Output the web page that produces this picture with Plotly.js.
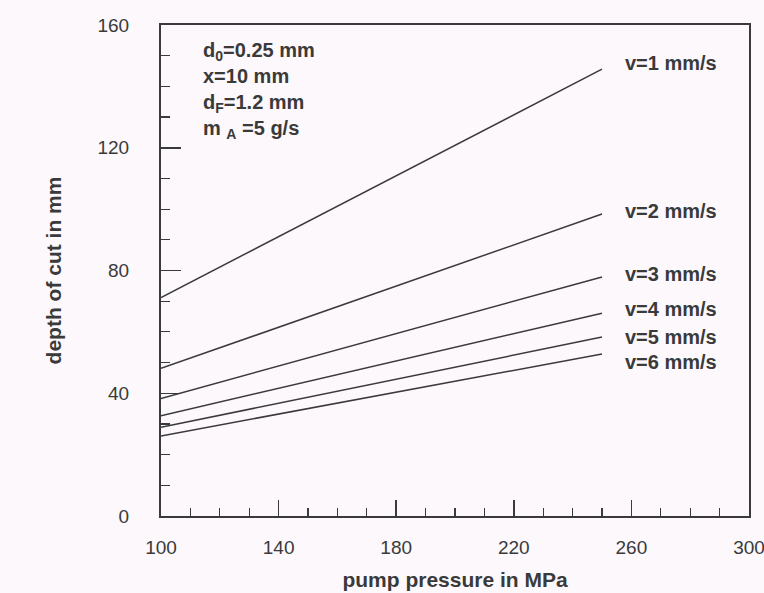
<!DOCTYPE html>
<html>
<head>
<meta charset="utf-8">
<script src="https://cdn.plot.ly/plotly-3.0.1.min.js"></script>
<style>html,body{margin:0;padding:0;background:#fcf8fc;}#chart{width:764px;height:593px;}</style>
</head>
<body>
<div id="chart"></div>
<script>
// pump pressure in MPa (line endpoints)
const pressure = [100, 250];
// depth of cut in mm for each traverse speed
const v1 = [71.2, 145.6];
const v2 = [48.1, 98.4];
const v3 = [38.3, 77.9];
const v4 = [32.7, 66.1];
const v5 = [28.9, 58.3];
const v6 = [26.1, 52.8];
const seriesNames = ["v=1 mm/s", "v=2 mm/s", "v=3 mm/s", "v=4 mm/s", "v=5 mm/s", "v=6 mm/s"];
const paramLines = ["d<sub>0</sub>=0.25 mm", "x=10 mm", "d<sub>F</sub>=1.2 mm", "m <sub>A</sub> =5 g/s"];
const xTicks = [100, 140, 180, 220, 260, 300];
const yTicks = [0, 40, 80, 120, 160];

const allSeries = [v1, v2, v3, v4, v5, v6];
const lineColor = "#3a3a3a";
const textColor = "#3a3a3a";
const font = "Liberation Sans, Arial, Helvetica, sans-serif";

const traces = allSeries.map((s, i) => ({
  x: pressure, y: s, mode: "lines", type: "scatter", name: seriesNames[i],
  line: {color: lineColor, width: 1.5}, hoverinfo: "x+y+name"
}));

const labelShift = [2, 1, 1, 1.5, 0, -2.5];
const annotations = allSeries.map((s, i) => ({
  x: 257, y: s[s.length - 1] + labelShift[i], xref: "x", yref: "y",
  text: seriesNames[i], showarrow: false, xanchor: "left", yanchor: "middle",
  font: {family: font, size: 20, color: textColor, weight: "bold"}
}));
annotations.push({
  x: 0.068, y: 0.975, xref: "paper", yref: "paper", xanchor: "left", yanchor: "top",
  align: "left", showarrow: false, text: paramLines.join("<br>"),
  font: {family: font, size: 20, color: textColor, weight: "bold"}
});

const layout = {
  width: 764, height: 593,
  margin: {l: 161, r: 15, t: 25, b: 77},
  paper_bgcolor: "#fcf8fc", plot_bgcolor: "#fcf8fc",
  showlegend: false,
  font: {family: font, color: textColor},
  xaxis: {
    range: [100, 300], tickvals: xTicks, ticktext: xTicks.map(String),
    ticklabeloverflow: "allow",
    ticks: "inside", ticklen: 16, tickwidth: 1.5, tickcolor: lineColor,
    minor: {dtick: 10, ticks: "inside", ticklen: 8, tickwidth: 1.2, tickcolor: lineColor},
    showline: true, linecolor: lineColor, linewidth: 2, mirror: true,
    showgrid: false, zeroline: false,
    tickfont: {family: font, size: 19, color: textColor},
    ticklabelstandoff: 13,
    title: {text: "pump pressure in MPa", font: {family: font, size: 21, color: textColor, weight: "bold"}, standoff: 16}
  },
  yaxis: {
    range: [0, 160], tickvals: yTicks, ticktext: yTicks.map(String),
    ticklabeloverflow: "allow",
    ticks: "inside", ticklen: 20, tickwidth: 1.5, tickcolor: lineColor,
    minor: {dtick: 10, ticks: "inside", ticklen: 9, tickwidth: 1.2, tickcolor: lineColor},
    showline: true, linecolor: lineColor, linewidth: 2, mirror: true,
    showgrid: false, zeroline: false,
    tickfont: {family: font, size: 19, color: textColor},
    ticklabelstandoff: 26,
    title: {text: "depth of cut in mm", font: {family: font, size: 21, color: textColor, weight: "bold"}, standoff: 30}
  },
  annotations: annotations
};

Plotly.newPlot("chart", traces, layout, {displayModeBar: false, staticPlot: true});
</script>
</body>
</html>
